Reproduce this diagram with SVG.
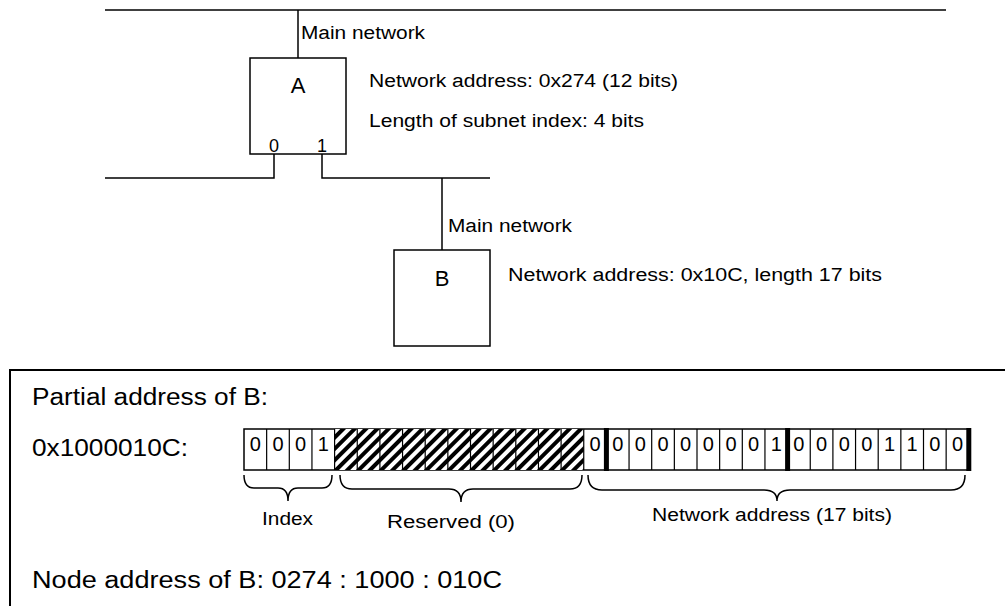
<svg xmlns="http://www.w3.org/2000/svg" width="1005" height="606" viewBox="0 0 1005 606">
<defs>
<style>
.ln{stroke:#000;stroke-width:1.5;fill:none}
.box{stroke:#000;stroke-width:1.5;fill:#fff}
.t{font-family:"Liberation Sans",Arial,sans-serif;fill:#000}
.s{font-size:18px}
.m{font-size:22px}
.l{font-size:23.5px}
.d{font-size:20px;text-anchor:middle}
.c{text-anchor:middle}
.cell{stroke:#000;stroke-width:1.2}
.thick{stroke:#000;stroke-width:5}
</style>
<pattern id="hatch" patternUnits="userSpaceOnUse" width="8" height="8" patternTransform="rotate(45)">
<rect width="8" height="8" fill="#fff"/><rect width="4" height="8" fill="#000"/>
</pattern>
</defs>
<rect width="1005" height="606" fill="#fff"/>

<g id="connectors">
<line class="ln" x1="105" y1="10" x2="946" y2="10"/>
<line class="ln" x1="298" y1="10" x2="298" y2="58"/>
<polyline class="ln" points="274,154 274,178 105,178"/>
<polyline class="ln" points="322,154 322,178 490,178"/>
<line class="ln" x1="442" y1="178" x2="442" y2="250"/>
</g>

<g id="node-A">
<rect class="box" x="250" y="58" width="96" height="96"/>
<text class="t m c" x="298" y="93">A</text>
<text class="t s c" x="274" y="152">0</text>
<text class="t s c" x="322" y="152">1</text>
</g>

<g id="node-B">
<rect class="box" x="394" y="250" width="96" height="96"/>
<text class="t m c" x="442" y="286">B</text>
</g>

<g id="labels">
<text class="t s" x="301" y="39" textLength="124" lengthAdjust="spacingAndGlyphs">Main network</text>
<text class="t s" x="369" y="87" textLength="309" lengthAdjust="spacingAndGlyphs">Network address: 0x274 (12 bits)</text>
<text class="t s" x="369" y="127" textLength="275" lengthAdjust="spacingAndGlyphs">Length of subnet index: 4 bits</text>
<text class="t s" x="448" y="232" textLength="124" lengthAdjust="spacingAndGlyphs">Main network</text>
<text class="t s" x="508" y="281" textLength="374" lengthAdjust="spacingAndGlyphs">Network address: 0x10C, length 17 bits</text>
</g>

<g id="address-panel">
<rect x="10" y="370" width="1010" height="260" fill="none" stroke="#000" stroke-width="2"/>
<text class="t l" x="32" y="405" textLength="236" lengthAdjust="spacingAndGlyphs">Partial address of B:</text>
<text class="t l" x="32" y="456" textLength="156" lengthAdjust="spacingAndGlyphs">0x1000010C:</text>
<text class="t l" x="32" y="588" textLength="470" lengthAdjust="spacingAndGlyphs">Node address of B: 0274 : 1000 : 010C</text>

<g id="bit-field">
<rect x="244" y="429" width="724.8" height="41" fill="#fff" stroke="#000" stroke-width="1.5"/>
<rect x="334.6" y="429" width="249.15" height="41" fill="url(#hatch)"/>
<g class="cell">
<line x1="266.65" y1="429" x2="266.65" y2="470"/>
<line x1="289.3" y1="429" x2="289.3" y2="470"/>
<line x1="311.95" y1="429" x2="311.95" y2="470"/>
<line x1="334.6" y1="429" x2="334.6" y2="470"/>
<line x1="357.25" y1="429" x2="357.25" y2="470"/>
<line x1="379.9" y1="429" x2="379.9" y2="470"/>
<line x1="402.55" y1="429" x2="402.55" y2="470"/>
<line x1="425.2" y1="429" x2="425.2" y2="470"/>
<line x1="447.85" y1="429" x2="447.85" y2="470"/>
<line x1="470.5" y1="429" x2="470.5" y2="470"/>
<line x1="493.15" y1="429" x2="493.15" y2="470"/>
<line x1="515.8" y1="429" x2="515.8" y2="470"/>
<line x1="538.45" y1="429" x2="538.45" y2="470"/>
<line x1="561.1" y1="429" x2="561.1" y2="470"/>
<line x1="583.75" y1="429" x2="583.75" y2="470"/>
<line x1="629.05" y1="429" x2="629.05" y2="470"/>
<line x1="651.7" y1="429" x2="651.7" y2="470"/>
<line x1="674.35" y1="429" x2="674.35" y2="470"/>
<line x1="697" y1="429" x2="697" y2="470"/>
<line x1="719.65" y1="429" x2="719.65" y2="470"/>
<line x1="742.3" y1="429" x2="742.3" y2="470"/>
<line x1="764.95" y1="429" x2="764.95" y2="470"/>
<line x1="810.25" y1="429" x2="810.25" y2="470"/>
<line x1="832.9" y1="429" x2="832.9" y2="470"/>
<line x1="855.55" y1="429" x2="855.55" y2="470"/>
<line x1="878.2" y1="429" x2="878.2" y2="470"/>
<line x1="900.85" y1="429" x2="900.85" y2="470"/>
<line x1="923.5" y1="429" x2="923.5" y2="470"/>
<line x1="946.15" y1="429" x2="946.15" y2="470"/>
</g>
<g class="thick">
<line x1="606.4" y1="428" x2="606.4" y2="471"/>
<line x1="787.6" y1="428" x2="787.6" y2="471"/>
<line x1="968.8" y1="428" x2="968.8" y2="471"/>
</g>
<g class="t d">
<text x="255.33" y="451">0</text>
<text x="277.98" y="451">0</text>
<text x="300.63" y="451">0</text>
<text x="323.28" y="451">1</text>
<text x="595.08" y="451">0</text>
<text x="617.73" y="451">0</text>
<text x="640.38" y="451">0</text>
<text x="663.03" y="451">0</text>
<text x="685.68" y="451">0</text>
<text x="708.33" y="451">0</text>
<text x="730.98" y="451">0</text>
<text x="753.63" y="451">0</text>
<text x="776.28" y="451">1</text>
<text x="798.93" y="451">0</text>
<text x="821.58" y="451">0</text>
<text x="844.23" y="451">0</text>
<text x="866.88" y="451">0</text>
<text x="889.53" y="451">1</text>
<text x="912.18" y="451">1</text>
<text x="934.83" y="451">0</text>
<text x="957.48" y="451">0</text>
</g>
</g>

<g id="braces" class="ln">
<path d="M244,475 Q244,488 254,488 L278,488 Q288,488 288,501 Q288,488 298,488 L322,488 Q332,488 332,475"/>
<path d="M340,475 Q340,489 352,489 L449,489 Q461,489 461,502 Q461,489 473,489 L570,489 Q582,489 582,475"/>
<path d="M588,475 Q588,490 602,490 L764,490 Q777,490 777,501 Q777,490 790,490 L951,490 Q965,490 965,475"/>
</g>
<text class="t s" x="262" y="525" textLength="51" lengthAdjust="spacingAndGlyphs">Index</text>
<text class="t s" x="387" y="528" textLength="128" lengthAdjust="spacingAndGlyphs">Reserved (0)</text>
<text class="t s" x="652" y="521" textLength="240" lengthAdjust="spacingAndGlyphs">Network address (17 bits)</text>
</g>
</svg>
